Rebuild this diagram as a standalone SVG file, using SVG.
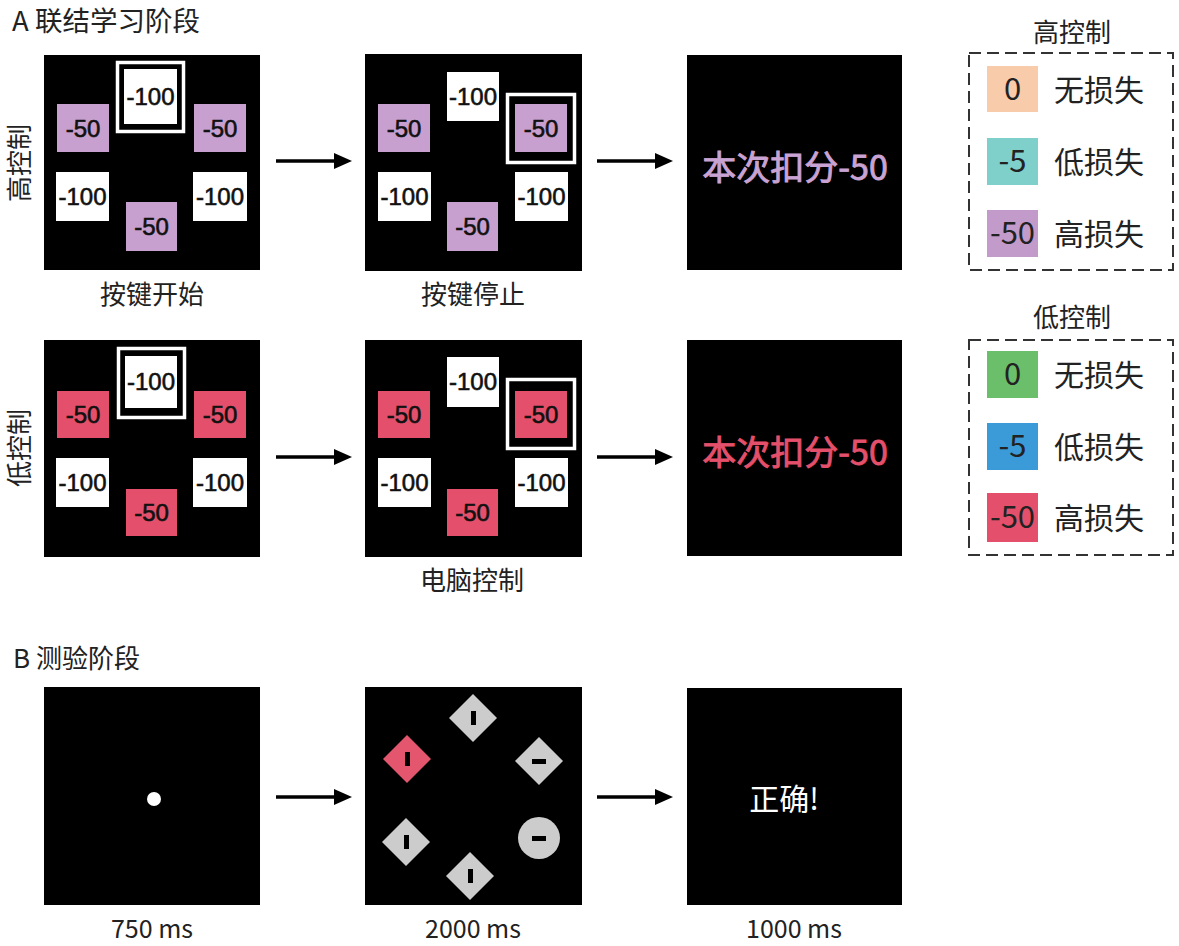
<svg xmlns="http://www.w3.org/2000/svg" width="1179" height="946" viewBox="0 0 1179 946">
<style>
.cn{font-family:"Noto Sans CJK SC","Liberation Sans",sans-serif;fill:#222}
.num{font-family:"Liberation Sans","Noto Sans",sans-serif;font-size:24px;fill:#111;stroke:#111;stroke-width:0.6;text-anchor:middle}
.leg{font-family:"Noto Sans CJK SC","Liberation Sans",sans-serif;font-size:30px;fill:#222}
.legn{font-family:"Noto Sans CJK SC","Liberation Sans",sans-serif;font-size:31px;fill:#222;text-anchor:middle}
.big{font-family:"Noto Sans CJK SC","Liberation Sans",sans-serif;font-size:34px;stroke-width:0.9;text-anchor:middle}
.panel{fill:#000}
.w{fill:#fff}
.p{fill:#C7A0CF}
.r{fill:#E4506B}
.frame{fill:none;stroke:#fff;stroke-width:3.5}
.dash{fill:none;stroke:#333;stroke-width:2;stroke-dasharray:12 6}
.gray{fill:#CCCCCC}
.arr{stroke:#000;stroke-width:3.5;marker-end:url(#ah)}
</style>
<defs>
<marker id="ah" markerWidth="18" markerHeight="16" refX="9" refY="8" orient="auto" markerUnits="userSpaceOnUse">
<path d="M0,0 L18,8 L0,16 z" fill="#000"/>
</marker>
</defs>
<rect width="1179" height="946" fill="#fff"/>

<text class="cn" x="12" y="31" font-size="27.5">A 联结学习阶段</text>
<text class="cn" x="13" y="668" font-size="26">B 测验阶段</text>

<text class="cn" font-size="26" text-anchor="middle" transform="translate(29,163) rotate(-90)">高控制</text>
<text class="cn" font-size="26" text-anchor="middle" transform="translate(29,448) rotate(-90)">低控制</text>

<!-- Row 1 panel 1 -->
<g id="r1p1">
<rect class="panel" x="44" y="55" width="216" height="215"/>
<rect class="frame" x="117.5" y="62.5" width="66" height="69"/>
<rect class="w" x="124" y="69" width="53" height="55"/><text class="num" x="150.5" y="105">-100</text>
<rect class="p" x="57" y="104" width="52" height="48"/><text class="num" x="83" y="137">-50</text>
<rect class="p" x="194" y="104" width="52" height="48"/><text class="num" x="220" y="137">-50</text>
<rect class="w" x="56" y="172" width="53" height="49"/><text class="num" x="82.5" y="205">-100</text>
<rect class="w" x="193" y="172" width="54" height="49"/><text class="num" x="220" y="205">-100</text>
<rect class="p" x="126" y="202" width="51" height="49"/><text class="num" x="151.5" y="235">-50</text>
</g>
<text class="cn" x="152" y="304" font-size="26" text-anchor="middle">按键开始</text>

<!-- Row 1 panel 2 -->
<g id="r1p2">
<rect class="panel" x="365" y="54" width="217" height="217"/>
<rect class="w" x="447" y="72" width="52" height="49"/><text class="num" x="473" y="105">-100</text>
<rect class="p" x="378" y="104" width="52" height="48"/><text class="num" x="404" y="137">-50</text>
<rect class="frame" x="507.5" y="94.5" width="67" height="68"/>
<rect class="p" x="515" y="104" width="52" height="48"/><text class="num" x="541" y="137">-50</text>
<rect class="w" x="378" y="172" width="53" height="49"/><text class="num" x="404.5" y="205">-100</text>
<rect class="w" x="515" y="172" width="53" height="49"/><text class="num" x="541.5" y="205">-100</text>
<rect class="p" x="447" y="202" width="51" height="49"/><text class="num" x="472.5" y="235">-50</text>
</g>
<text class="cn" x="473" y="304" font-size="26" text-anchor="middle">按键停止</text>

<!-- Row 1 panel 3 -->
<g id="r1p3">
<rect class="panel" x="687" y="55" width="215" height="215"/>
<text class="big" x="795" y="180" fill="#C9A3D3" stroke="#C9A3D3">本次扣分-50</text>
</g>

<!-- Row 2 panel 1 -->
<g id="r2p1">
<rect class="panel" x="44" y="340" width="216" height="217"/>
<rect class="frame" x="118.5" y="348.5" width="66" height="69"/>
<rect class="w" x="125" y="356" width="52" height="52"/><text class="num" x="151" y="390">-100</text>
<rect class="r" x="57" y="391" width="52" height="47"/><text class="num" x="83" y="423">-50</text>
<rect class="r" x="194" y="391" width="52" height="47"/><text class="num" x="220" y="423">-50</text>
<rect class="w" x="56" y="458" width="53" height="49"/><text class="num" x="82.5" y="491">-100</text>
<rect class="w" x="193" y="458" width="54" height="49"/><text class="num" x="220" y="491">-100</text>
<rect class="r" x="126" y="489" width="51" height="47"/><text class="num" x="151.5" y="521">-50</text>
</g>

<!-- Row 2 panel 2 -->
<g id="r2p2">
<rect class="panel" x="365" y="340" width="217" height="217"/>
<rect class="w" x="447" y="357" width="52" height="50"/><text class="num" x="473" y="390">-100</text>
<rect class="r" x="378" y="391" width="52" height="47"/><text class="num" x="404" y="423">-50</text>
<rect class="frame" x="507.5" y="379.5" width="67" height="69"/>
<rect class="r" x="515" y="391" width="52" height="47"/><text class="num" x="541" y="423">-50</text>
<rect class="w" x="378" y="458" width="53" height="49"/><text class="num" x="404.5" y="491">-100</text>
<rect class="w" x="515" y="458" width="53" height="49"/><text class="num" x="541.5" y="491">-100</text>
<rect class="r" x="447" y="489" width="51" height="47"/><text class="num" x="472.5" y="521">-50</text>
</g>
<text class="cn" x="472" y="590" font-size="26" text-anchor="middle">电脑控制</text>

<!-- Row 2 panel 3 -->
<g id="r2p3">
<rect class="panel" x="687" y="340" width="215" height="216"/>
<text class="big" x="795" y="465" fill="#E4506B" stroke="#E4506B">本次扣分-50</text>
</g>

<!-- Legend 1 -->
<g id="legend-high">
<text class="cn" x="1072" y="42" font-size="26" text-anchor="middle">高控制</text>
<rect class="dash" x="969" y="53" width="204" height="217"/>
<rect x="987" y="66" width="51" height="46" fill="#F8CBAA"/><text class="legn" x="1012.5" y="100">0</text>
<text class="leg" x="1054" y="101">无损失</text>
<rect x="987" y="138" width="51" height="47" fill="#7FCFCB"/><text class="legn" x="1012.5" y="172">-5</text>
<text class="leg" x="1054" y="173">低损失</text>
<rect x="987" y="210" width="51" height="47" fill="#C39BCB"/><text class="legn" x="1012.5" y="244">-50</text>
<text class="leg" x="1054" y="245">高损失</text>
</g>

<!-- Legend 2 -->
<g id="legend-low">
<text class="cn" x="1072" y="327" font-size="26" text-anchor="middle">低控制</text>
<rect class="dash" x="969" y="340" width="204" height="215"/>
<rect x="987" y="351" width="51" height="47" fill="#6BBF6B"/><text class="legn" x="1012.5" y="385">0</text>
<text class="leg" x="1054" y="386">无损失</text>
<rect x="987" y="423" width="51" height="47" fill="#3B9BD8"/><text class="legn" x="1012.5" y="457">-5</text>
<text class="leg" x="1054" y="458">低损失</text>
<rect x="987" y="493" width="51" height="49" fill="#E4506B"/><text class="legn" x="1012.5" y="528">-50</text>
<text class="leg" x="1054" y="529">高损失</text>
</g>

<!-- Row B -->
<g id="b1">
<rect class="panel" x="44" y="687" width="216" height="218"/>
<circle cx="154" cy="799" r="7" fill="#fff"/>
</g>
<text class="cn" x="152" y="938" font-size="25" text-anchor="middle">750 ms</text>

<g id="b2">
<rect class="panel" x="365" y="687" width="217" height="218"/>
<path class="gray" d="M473,694 L497,718 L473,742 L449,718 z"/><rect x="471" y="711" width="5" height="14" fill="#000"/>
<path d="M407,735 L431,759 L407,783 L383,759 z" fill="#E4566E"/><rect x="405" y="752" width="5" height="14" fill="#000"/>
<path class="gray" d="M539,737 L563,761 L539,785 L515,761 z"/><rect x="532" y="759" width="14" height="5" fill="#000"/>
<path class="gray" d="M406,818 L430,842 L406,866 L382,842 z"/><rect x="404" y="835" width="5" height="14" fill="#000"/>
<circle class="gray" cx="539" cy="838" r="21"/><rect x="532" y="836" width="14" height="5" fill="#000"/>
<path class="gray" d="M470,852 L494,876 L470,900 L446,876 z"/><rect x="468" y="869" width="5" height="14" fill="#000"/>
</g>
<text class="cn" x="473" y="938" font-size="25" text-anchor="middle">2000 ms</text>

<g id="b3">
<rect class="panel" x="687" y="688" width="215" height="217"/>
<text x="784" y="810" font-family="Noto Sans CJK SC, Liberation Sans, sans-serif" font-size="30" fill="#fff" text-anchor="middle">正确!</text>
</g>
<text class="cn" x="794" y="938" font-size="25" text-anchor="middle">1000 ms</text>

<g id="connectors">
<line class="arr" x1="276" y1="161" x2="343" y2="161"/>
<line class="arr" x1="597" y1="161" x2="664" y2="161"/>
<line class="arr" x1="276" y1="457" x2="343" y2="457"/>
<line class="arr" x1="597" y1="457" x2="664" y2="457"/>
<line class="arr" x1="276" y1="797" x2="343" y2="797"/>
<line class="arr" x1="597" y1="797" x2="664" y2="797"/>
</g>
</svg>
